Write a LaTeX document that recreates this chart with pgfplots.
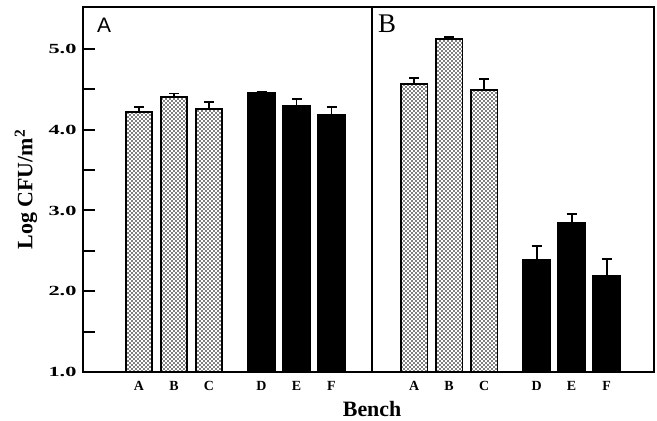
\documentclass[border=0pt]{standalone}
\usepackage{graphicx}
\usepackage{pgfplots}
\pgfplotsset{compat=1.18}
\usepackage{fontspec}
\setmainfont{Liberation Serif}
\newfontfamily\sansA{Liberation Sans}
\usetikzlibrary{patterns}

% stippled fill of the first three benches
\pgfdeclarepatternformonly{stipple}{\pgfqpoint{-1bp}{-1bp}}{\pgfqpoint{3bp}{3bp}}{\pgfqpoint{4bp}{4bp}}{
  \pgfpathcircle{\pgfqpoint{0bp}{0bp}}{0.8bp}
  \pgfpathcircle{\pgfqpoint{2bp}{2bp}}{0.8bp}
  \pgfusepath{fill}}

\pgfplotsset{
  bench/.style={
    x=35bp, y=80.75bp, ymin=1, ymax=5.52,
    ybar=0pt, bar width=0.76,
    tick align=inside,
    xtick={1,2,3,4.5,5.5,6.5}, xticklabels={A,B,C,D,E,F},
    xtick style={draw=none},
    xticklabel style={font=\bfseries\fontsize{14}{14}\selectfont, yshift=-6bp},
    axis line style={line width=2.4bp},
  },
  errs/.style={
    error bars/y dir=plus, error bars/y explicit,
    error bars/error bar style={line width=1.8bp, black},
    error bars/error mark options={rotate=90, mark size=5bp, line width=1.8bp, black},
  },
  stip/.style={errs, draw=black, line width=1.8bp, pattern=stipple, bar shift=0pt},
  blk/.style={errs, draw=black, fill=black, line width=1.8bp, bar shift=0pt},
}

\begin{document}
\begin{tikzpicture}
\begin{axis}[bench, name=L, xmin=-0.6, xmax=7.66,
  ytick={1,2,3,4,5}, minor ytick={1.5,2.5,3.5,4.5},
  ytick pos=left,
  major tick length=12bp, minor tick length=12bp,
  ytick style={line width=2bp, black},
  /pgf/number format/assume math mode=true,
  yticklabel={\scalebox{1.6}[1]{\pgfmathprintnumber[fixed,fixed zerofill,precision=1]{\tick}}},
  yticklabel style={font=\bfseries\fontsize{14}{14}\selectfont, xshift=-3bp}]
\addplot[stip] coordinates {(1,4.22) +- (0,0.06) (2,4.41) +- (0,0.04) (3,4.26) +- (0,0.08)};
\addplot[blk] coordinates {(4.5,4.46) +- (0,0.01) (5.5,4.29) +- (0,0.09) (6.5,4.19) +- (0,0.09)};
\node[anchor=base west, inner sep=0, font=\sansA\fontsize{21}{21}\selectfont] at (rel axis cs:0.048,0.931) {A};
\end{axis}

\begin{axis}[bench, at={(L.south east)}, anchor=south west, xmin=-0.2, xmax=7.86, ytick=\empty]
\addplot[stip] coordinates {(1,4.57) +- (0,0.07) (2,5.12) +- (0,0.03) (3,4.49) +- (0,0.14)};
\addplot[blk] coordinates {(4.5,2.39) +- (0,0.17) (5.5,2.85) +- (0,0.11) (6.5,2.19) +- (0,0.21)};
\node[anchor=base west, inner sep=0, font=\fontsize{27}{27}\selectfont] at (rel axis cs:0.021,0.931) {B};
\end{axis}

\node[rotate=90, font=\bfseries\fontsize{22}{22}\selectfont] at ([xshift=-57bp]L.west) {Log CFU/m\textsuperscript{2}};
\node[anchor=base, font=\bfseries\fontsize{22}{22}\selectfont] at ([yshift=-44bp]L.south east) {Bench};
\path (L.south west) ++(-83bp,-49bp) rectangle ++(657bp,421bp);
\end{tikzpicture}
\end{document}
